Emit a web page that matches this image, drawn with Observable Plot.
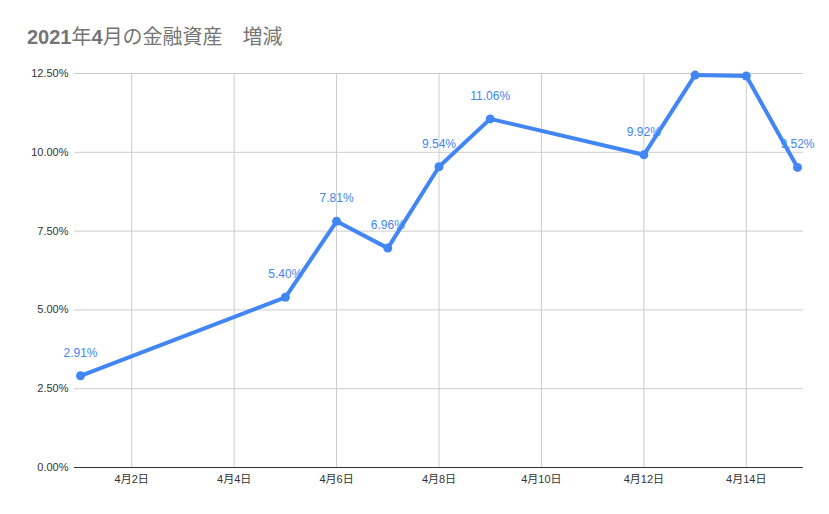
<!DOCTYPE html>
<html><head><meta charset="utf-8">
<script src="https://cdn.jsdelivr.net/npm/d3@7"></script>
<script src="https://cdn.jsdelivr.net/npm/@observablehq/plot@0.6"></script>
<style>
body{margin:0;background:#fff;font-family:"Liberation Sans",Arial,"Noto Sans CJK JP",sans-serif;}
#title{height:55px;box-sizing:border-box;padding:26px 0 0 27px;font-size:20px;color:#757575;line-height:22px;white-space:pre;}
#title b{font-weight:bold;}
</style></head>
<body>
<div id="title"><b>2021</b>年<b>4</b>月の金融資産　増減</div>
<div id="chart"></div>
<script>
const dates = ["2021-04-01","2021-04-05","2021-04-06","2021-04-07","2021-04-08","2021-04-09","2021-04-12","2021-04-13","2021-04-14","2021-04-15"];
const values = [2.91,5.40,7.81,6.96,9.54,11.06,9.92,12.45,12.42,9.52];
const yTicks = [0,2.5,5,7.5,10,12.5];
const xTicks = ["2021-04-02","2021-04-04","2021-04-06","2021-04-08","2021-04-10","2021-04-12","2021-04-14"];

const data = dates.map((d,i)=>({date:new Date(d+"T00:00:00Z"), value:values[i]}));
const xt = xTicks.map(d=>new Date(d+"T00:00:00Z"));
const blue = "#4285F4";

const chart = Plot.plot({
  width: 829, height: 459,
  marginLeft: 74, marginRight: 26, marginTop: 18, marginBottom: 47,
  style: {fontFamily: '"Liberation Sans",Arial,"Noto Sans CJK JP",sans-serif', fontSize: "11px", color: "#333"},
  x: {type: "utc", domain: [new Date("2021-04-01T00:00:00Z"), new Date("2021-04-15T00:00:00Z")], range: [80, 797]},
  y: {domain: [0, 12.5]},
  marks: [
    Plot.gridX(xt, {stroke: "#ccc", strokeOpacity: 1}),
    Plot.gridY(yTicks, {stroke: "#ccc", strokeOpacity: 1}),
    Plot.axisY({ticks: yTicks, tickSize: 0, tickPadding: 6, tickFormat: d => d.toFixed(2) + "%", label: null, fill: "#333"}),
    Plot.axisX({ticks: xt, tickSize: 0, tickPadding: 8, tickFormat: d => `4月${d.getUTCDate()}日`, label: null, fill: "#333"}),
    Plot.ruleY([0], {stroke: "#333", strokeWidth: 1}),
    Plot.line(data, {x: "date", y: "value", stroke: blue, strokeWidth: 4, curve: "linear"}),
    Plot.dot(data, {x: "date", y: "value", fill: blue, r: 4.5}),
    Plot.text(data.filter(d => d.value + 0.7 <= 12.5), {x: "date", y: "value", text: d => d.value.toFixed(2) + "%", dy: -23, fill: blue, fontSize: 12})
  ]
});
document.getElementById("chart").appendChild(chart);
</script>
</body></html>
